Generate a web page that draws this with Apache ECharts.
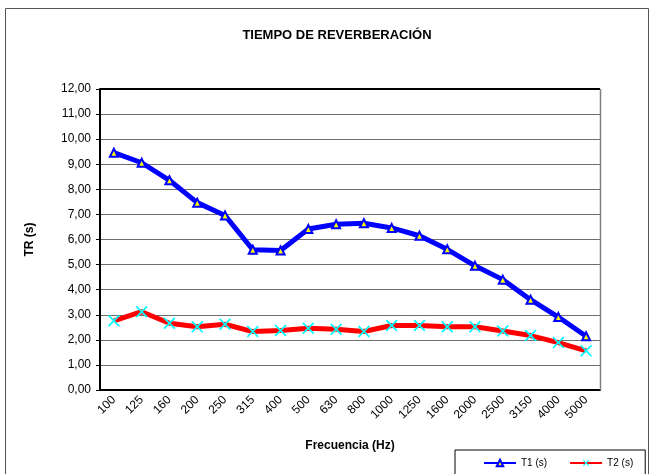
<!DOCTYPE html>
<html>
<head>
<meta charset="utf-8">
<script src="https://cdn.jsdelivr.net/npm/echarts@6/dist/echarts.min.js"></script>
<style>
  html, body { margin: 0; padding: 0; background: #fff; }
  #chart { width: 657px; height: 474px; }
</style>
</head>
<body>
<div id="chart"></div>
<script>
const frecuencias = ['100', '125', '160', '200', '250', '315', '400', '500', '630', '800',
  '1000', '1250', '1600', '2000', '2500', '3150', '4000', '5000'];
const t1 = [9.46, 9.06, 8.36, 7.47, 6.96, 5.59, 5.56, 6.42, 6.61, 6.65,
  6.46, 6.15, 5.61, 4.95, 4.40, 3.60, 2.91, 2.14];
const t2 = [2.76, 3.12, 2.66, 2.52, 2.62, 2.33, 2.37, 2.46, 2.42, 2.33,
  2.57, 2.57, 2.52, 2.52, 2.35, 2.17, 1.89, 1.56];

const font = 'Arial, "Liberation Sans", sans-serif';
// cruz para los puntos de T2
const cruz = 'path://M0,1L1,0L5,4L9,0L10,1L6,5L10,9L9,10L5,6L1,10L0,9L4,5Z';

const chart = echarts.init(document.getElementById('chart'));
chart.setOption({
  animation: false,
  title: {
    text: 'TIEMPO DE REVERBERACIÓN',
    left: 332, top: 24, textAlign: 'center',
    textStyle: { fontFamily: font, fontSize: 13, fontWeight: 'bold', color: '#000' },
  },
  graphic: [
    {
      type: 'rect',
      shape: { x: 5.5, y: 8.5, width: 643, height: 480 },
      style: { fill: null, stroke: '#555', lineWidth: 1 },
    },
    // marco del área del gráfico
    {
      type: 'line', z: 10,
      shape: { x1: 100, y1: 89, x2: 600, y2: 89 },
      style: { stroke: '#000', lineWidth: 2 },
    },
    {
      type: 'line', z: 10,
      shape: { x1: 600.5, y1: 89, x2: 600.5, y2: 390 },
      style: { stroke: '#808080', lineWidth: 1.5 },
    },
  ],
  legend: {
    left: 455, top: 450,
    itemWidth: 32, itemHeight: 8, itemGap: 22,
    padding: [8, 12, 20, 28],
    borderColor: '#000', borderWidth: 1,
    textStyle: { fontFamily: font, fontSize: 10, color: '#000' },
    data: ['T1 (s)', 'T2 (s)'],
  },
  grid: { left: 100, right: 57, top: 89, bottom: 84 },
  xAxis: {
    type: 'category',
    data: frecuencias,
    name: 'Frecuencia (Hz)',
    nameLocation: 'middle', nameGap: 50,
    nameTextStyle: { fontFamily: font, fontSize: 12, fontWeight: 'bold', color: '#000' },
    axisLine: { lineStyle: { color: '#000', width: 2 } },
    axisTick: { alignWithLabel: false, lineStyle: { color: '#000' }, length: 4 },
    axisLabel: { rotate: 45, interval: 0, fontFamily: font, fontSize: 12, color: '#000', margin: 8 },
  },
  yAxis: {
    type: 'value',
    min: 0, max: 12, interval: 1,
    name: 'TR (s)',
    nameLocation: 'middle', nameGap: 64,
    nameTextStyle: { fontFamily: font, fontSize: 12, fontWeight: 'bold', color: '#000' },
    axisLine: { show: true, lineStyle: { color: '#000', width: 2 } },
    axisTick: { show: true, lineStyle: { color: '#000' }, length: 4 },
    axisLabel: {
      fontFamily: font, fontSize: 12, color: '#000', margin: 9,
      formatter: v => v.toFixed(2).replace('.', ','),
    },
    splitLine: { lineStyle: { color: '#6e6e6e', width: 1 } },
  },
  series: [
    {
      name: 'T1 (s)',
      type: 'line',
      data: t1,
      symbol: 'triangle', symbolSize: 8,
      lineStyle: { color: '#0000FF', width: 5 },
      itemStyle: { color: '#FFFF00', borderColor: '#0000FF', borderWidth: 2 },
      z: 3,
    },
    {
      name: 'T2 (s)',
      type: 'line',
      data: t2,
      symbol: cruz, symbolSize: 12,
      lineStyle: { color: '#FF0000', width: 5 },
      itemStyle: { color: '#00FFFF', borderWidth: 0 },
      z: 2,
    },
  ],
});
</script>
</body>
</html>
